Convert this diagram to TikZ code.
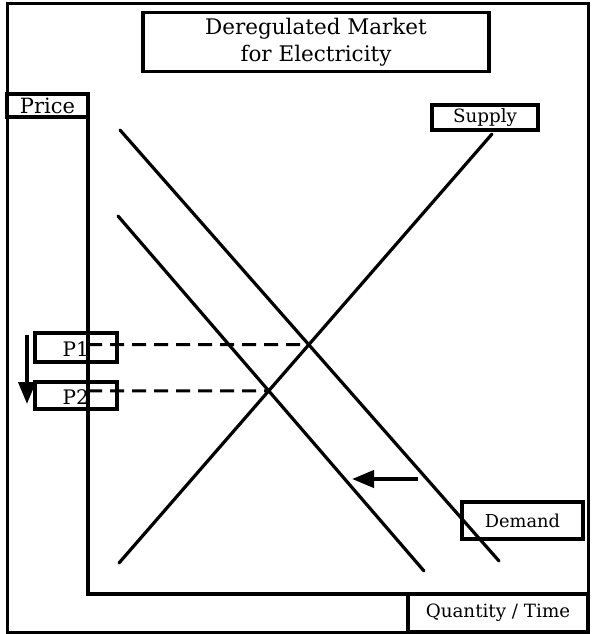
\documentclass[tikz,border=0pt]{standalone}
\usepackage{fontspec}
\setmainfont{DejaVu Serif}
\usetikzlibrary{arrows.meta}
\begin{document}
\begin{tikzpicture}[x=1pt,y=-1pt,
  box/.style={draw, line width=3.5pt, inner sep=0pt},
  curve/.style={line width=3.2pt, line cap=round},
  axis/.style={line width=4pt},
  guide/.style={line width=3pt, dash pattern=on 14pt off 8pt},
  shiftarrow/.style={line width=4pt, -{Triangle[length=22pt,width=17pt]}},
  lbl/.style={font=\fontsize{18.3}{20}\selectfont},
]
\useasboundingbox (0,0) rectangle (593,634);
% outer frame
\draw[line width=3pt] (7,4) rectangle (588,632);
% title
\node[box, minimum width=346pt, minimum height=59pt, align=center,
  font=\fontsize{21.5}{27}\selectfont] (title) at (316,42)
  {Deregulated Market\\for Electricity};
% axes
\coordinate (ytop) at (88,94);
\coordinate (origin) at (88,594);
\coordinate (xend) at (588,594);
\draw[axis] (ytop) -- (origin) -- (xend);
% axis labels
\node[box, minimum width=81pt, minimum height=23pt, font=\fontsize{21}{22}\selectfont] (price) at (47.5,105.5) {Price};
\node[box, minimum width=180pt, minimum height=38pt, lbl] (qt) at (498,613) {Quantity / Time};
% curve labels
\node[box, minimum width=106pt, minimum height=25pt, lbl] (supply) at (485,117.5) {Supply};
\node[box, minimum width=121pt, minimum height=37pt, font=\fontsize{17.8}{20}\selectfont] (demand) at (522.5,520.5) {Demand};
% curves
\coordinate (sA) at (119,563);
\coordinate (sB) at (492,134);
\coordinate (dA) at (120,130);
\coordinate (dB) at (499,561);
\coordinate (eA) at (118,216);
\coordinate (eB) at (424,571);
\draw[curve] (sA) -- (sB);
\draw[curve] (dA) -- (dB);
\draw[curve] (eA) -- (eB);
\coordinate (x1) at (intersection of sA--sB and dA--dB);
\coordinate (x2) at (intersection of sA--sB and eA--eB);
% price boxes
\node[box, minimum width=82pt, minimum height=29pt] (p1) at (76,347.5) {};
\node[box, minimum width=82pt, minimum height=27pt] (p2) at (76,395.5) {};
\node[anchor=base east, inner sep=0pt, font=\fontsize{20}{20}\selectfont] (p1t) at (89,356) {P1};
\node[anchor=base east, inner sep=0pt, font=\fontsize{20}{20}\selectfont] (p2t) at (89,404) {P2};
\coordinate (g1) at (88,344.7);
\coordinate (g2) at (88,390.8);
\draw[guide] (g1) -- (x1);
\draw[guide] (g2) -- (x2);
% price drop arrow
\coordinate (pdA) at (27,335);
\coordinate (pdB) at (27,404);
\draw[shiftarrow] (pdA) -- (pdB);
% demand shift arrow
\coordinate (dsA) at (418,479);
\coordinate (dsB) at (352,479);
\draw[shiftarrow] (dsA) -- (dsB);
\end{tikzpicture}
\end{document}
